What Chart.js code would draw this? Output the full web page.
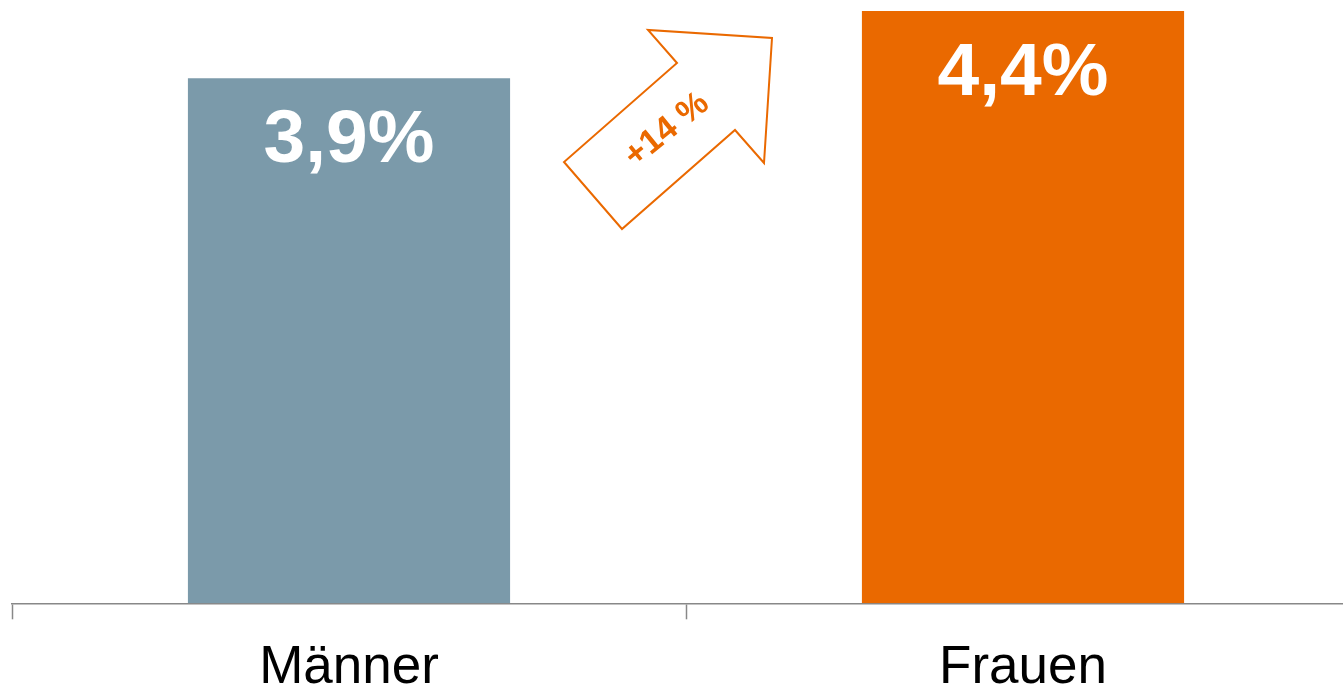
<!DOCTYPE html>
<html>
<head>
<meta charset="utf-8">
<script src="https://cdn.jsdelivr.net/npm/chart.js@4/dist/chart.umd.min.js"></script>
<style>
  html, body { margin: 0; padding: 0; background: #fff; overflow: hidden; }
  canvas { display: block; }
</style>
</head>
<body>
<canvas id="myChart" width="1360" height="717"></canvas>
<script>
var categories = ['Männer', 'Frauen'];
var values = [3.9, 4.4];
var valueLabels = ['3,9%', '4,4%'];
var barColors = ['#7B9AAA', '#EA6900'];
var changeLabel = '+14 %';

// white value text inside the top of each bar
var valueLabelPlugin = {
    id: 'valueLabels',
    afterDatasetsDraw: function(chart) {
        var ctx = chart.ctx;
        var meta = chart.getDatasetMeta(0);
        ctx.save();
        ctx.fillStyle = '#fff';
        ctx.font = 'bold 75px "Liberation Sans", Arial, sans-serif';
        ctx.textAlign = 'center';
        ctx.textBaseline = 'alphabetic';
        meta.data.forEach(function(bar, i) {
            ctx.fillText(valueLabels[i], bar.x, bar.y + 84);
        });
        ctx.restore();
    }
};

// outlined arrow between the bars with the change text
var arrowPlugin = {
    id: 'arrow',
    afterDraw: function(chart) {
        var ctx = chart.ctx;
        var meta = chart.getDatasetMeta(0);
        var a = meta.data[0], b = meta.data[1];
        // place arrow relative to the gap between bars
        var ox = (a.x + a.width / 2 + b.x - b.width / 2) / 2;
        var oy = b.y;
        var pts = [
            [-122, 151], [-64, 218], [49, 119], [78, 152],
            [86, 27], [-38, 19], [-9, 52]
        ];
        ctx.save();
        ctx.strokeStyle = '#EA6900';
        ctx.lineWidth = 2;
        ctx.beginPath();
        pts.forEach(function(p, i) {
            if (i == 0) ctx.moveTo(ox + p[0], oy + p[1]);
            else ctx.lineTo(ox + p[0], oy + p[1]);
        });
        ctx.closePath();
        ctx.stroke();

        ctx.translate(ox - 19, oy + 119);
        ctx.rotate(-39 * Math.PI / 180);
        ctx.fillStyle = '#EA6900';
        ctx.font = 'bold 34px "Liberation Sans", Arial, sans-serif';
        ctx.textAlign = 'center';
        ctx.textBaseline = 'middle';
        ctx.fillText(changeLabel, 0, 0);
        ctx.restore();
    }
};

var ctx = document.getElementById('myChart').getContext('2d');
var chart = new Chart(ctx, {
    type: 'bar',
    data: {
        labels: categories,
        datasets: [{
            data: values,
            backgroundColor: barColors,
            borderWidth: 0,
            categoryPercentage: 1,
            barPercentage: 0.478
        }]
    },
    options: {
        responsive: false,
        animation: false,
        layout: {
            padding: { left: 12, top: 11, right: 0, bottom: 0 }
        },
        plugins: {
            legend: { display: false },
            tooltip: { enabled: false }
        },
        scales: {
            x: {
                grid: {
                    drawOnChartArea: false,
                    offset: true,
                    tickLength: 16,
                    tickWidth: 1.5,
                    tickColor: '#888'
                },
                border: { color: '#888', width: 1.5 },
                ticks: {
                    color: '#000',
                    padding: 25,
                    font: { family: '"Liberation Sans", Arial, sans-serif', size: 53, lineHeight: 0.9 }
                }
            },
            y: {
                display: false,
                min: 0,
                max: 4.4
            }
        }
    },
    plugins: [valueLabelPlugin, arrowPlugin]
});
</script>
</body>
</html>
